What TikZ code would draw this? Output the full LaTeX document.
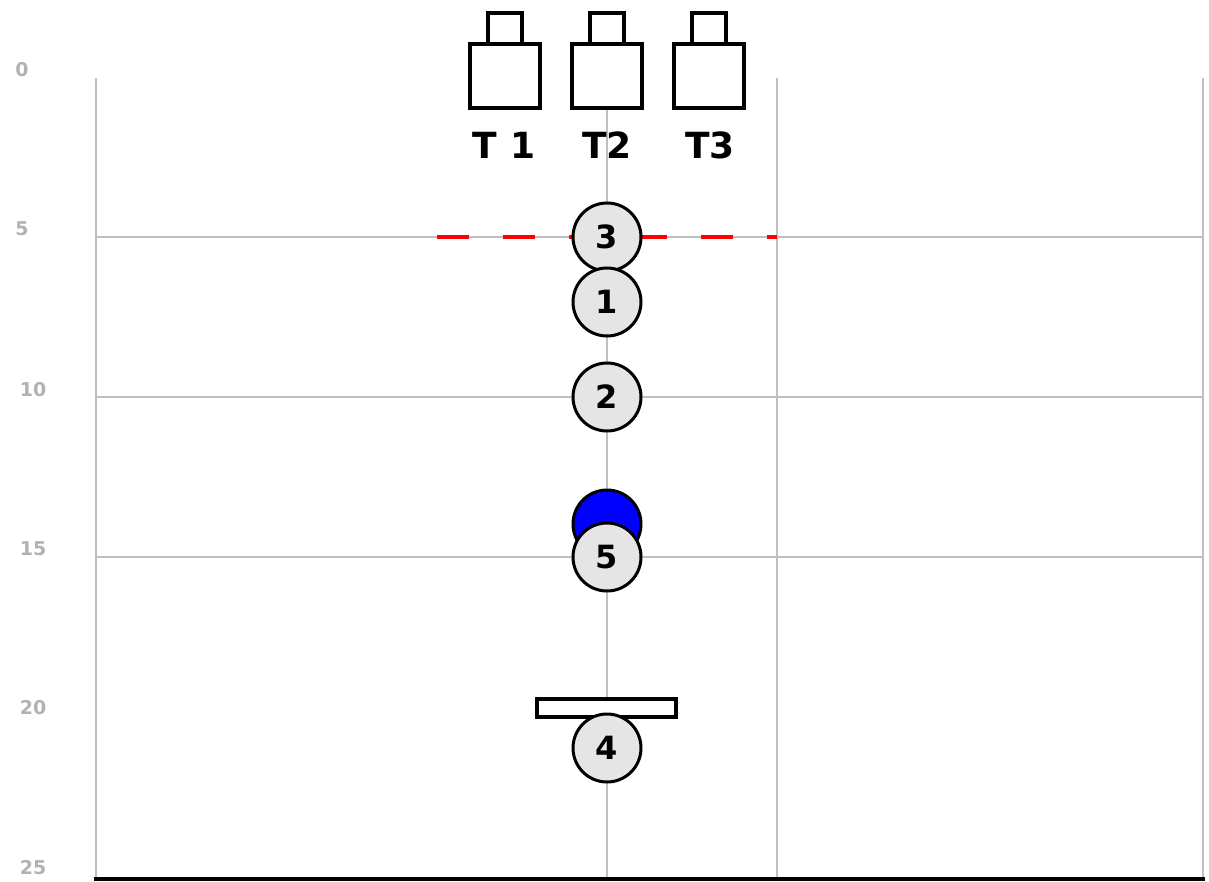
\documentclass[tikz,border=0pt]{standalone}
\usepackage{fontspec}
\setmainfont{DejaVu Sans}
\begin{document}
\begin{tikzpicture}[x=0.5pt,y=-0.5pt,
  gridline/.style={draw=black!25,line width=0.9pt},
  axislbl/.style={text=black!30,font=\bfseries\fontsize{9.5}{9.5}\selectfont,inner sep=0pt},
  posnode/.style={circle,draw=black,line width=1.5pt,fill=black!10,minimum size=34pt,inner sep=0pt,font=\bfseries\fontsize{16}{16}\selectfont},
  tool/.style={draw=black,line width=1.8pt,fill=white},
  tlbl/.style={font=\bfseries\fontsize{18}{18}\selectfont,inner sep=0pt}]
\useasboundingbox (0,0) rectangle (1209,882);
% grid
\foreach \x in {96,607,777,1203} \draw[gridline] (\x,78) -- (\x,877);
\foreach \y in {237,397,557} \draw[gridline] (96,\y) -- (1203,\y);
% axis labels
\node[axislbl] (l0) at (22,70) {0};
\node[axislbl] (l5) at (22,229) {5};
\node[axislbl] (l10) at (33,390) {10};
\node[axislbl] (l15) at (33,549) {15};
\node[axislbl] (l20) at (33,708) {20};
\node[axislbl] (l25) at (33,868) {25};
% bottom thick line
\draw[black,line width=2pt] (94,879) -- (1205,879);
% red dashed
\draw[red,line width=2pt,dash pattern=on 16pt off 17pt] (437,237) -- (777,237);
% tools
\foreach \cx/\n in {505/1,607/2,709/3}{
  \draw[tool] (\cx-35,44) rectangle (\cx+35,108);
  \draw[tool] (\cx-17,13) rectangle (\cx+17,44);
}
\node[tlbl] (t1) at (504,145) {T 1};
\node[tlbl] (t2) at (607,145) {T2};
\node[tlbl] (t3) at (710,145) {T3};
% positions
\node[posnode] (p3) at (607,237) {3};
\node[posnode] (p1) at (607,302) {1};
\node[posnode] (p2) at (607,397) {2};
\node[circle,draw=black,line width=1.5pt,fill=blue,minimum size=34pt,inner sep=0pt] (cap) at (607,524) {};
\node[posnode] (p5) at (607,557) {5};
\draw[black,line width=1.8pt,fill=white] (537,699) rectangle (676,717);
\node[posnode] (p4) at (607,748) {4};
\end{tikzpicture}
\end{document}
